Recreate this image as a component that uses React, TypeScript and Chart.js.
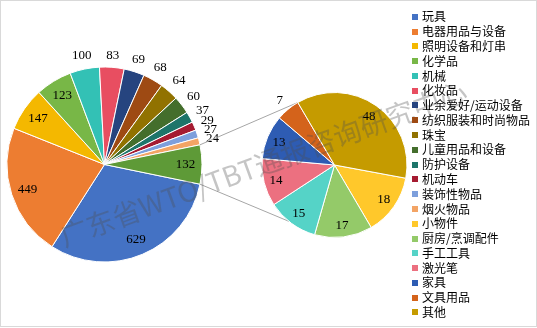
import React, { useEffect, useRef } from "react";
import { Chart, registerables } from "chart.js";

Chart.register(...registerables);

// ---- data ----
const mainLabels = [
  "玩具", "电器用品与设备", "照明设备和灯串", "化学品", "机械", "化妆品",
  "业余爱好/运动设备", "纺织服装和时尚物品", "珠宝", "儿童用品和设备",
  "防护设备", "机动车", "装饰性物品", "烟火物品",
];
const mainValues = [629, 449, 147, 123, 100, 83, 69, 68, 64, 60, 37, 29, 27, 24];

const secondLabels = ["小物件", "厨房/烹调配件", "手工工具", "激光笔", "家具", "文具用品", "其他"];
const secondValues = [18, 17, 15, 14, 13, 7, 48];

const otherLabel = "其他";

// ---- styles ----
const mainColors = [
  "#4472C4", "#ED7D31", "#F4B800", "#78B747", "#33C1B5", "#E84E61",
  "#26447F", "#9E4A13", "#917200", "#446E2C", "#1D756A", "#A51B31",
  "#7D9FDC", "#F3A465",
];
const secondColors = ["#FFC82B", "#94CA69", "#55D3C7", "#EC7080", "#2E5CB3", "#D4631B", "#C59B00"];
const otherSliceColor = "#5E9A37";
const watermarkText = "广东省WTO/TBT通报咨询研究中心";

const W = 537;
const H = 328;
const DEG = Math.PI / 180;

const valueLabelPlugin = {
  id: "valueLabels",
  afterDatasetsDraw(chart: any) {
    const ctx = chart.ctx;
    const meta = chart.getDatasetMeta(0);
    const data = chart.data.datasets[0].data;
    ctx.save();
    ctx.font = "13px 'Liberation Serif', 'Times New Roman', serif";
    ctx.fillStyle = "#000";
    ctx.textAlign = "center";
    ctx.textBaseline = "middle";
    meta.data.forEach((arc: any, i: number) => {
      const p = arc.getProps(["x", "y", "startAngle", "endAngle", "outerRadius"], true);
      const mid = (p.startAngle + p.endAngle) / 2;
      const span = p.endAngle - p.startAngle;
      const text = String(data[i]);
      const c = Math.cos(mid);
      const s = Math.sin(mid);
      let d: number;
      if (span >= 20 * DEG) {
        d = p.outerRadius * 0.83;
      } else {
        const w = ctx.measureText(text).width;
        const h = 12;
        d = p.outerRadius + 6 + Math.abs(c) * w / 2 + Math.abs(s) * h / 2;
      }
      ctx.fillText(text, p.x + c * d, p.y + s * d + 0.5);
    });
    ctx.restore();
  },
};

export default function App() {
  const mainRef = useRef<HTMLCanvasElement | null>(null);
  const secRef = useRef<HTMLCanvasElement | null>(null);

  useEffect(() => {
    if (!mainRef.current || !secRef.current) return;
    const otherSum = secondValues.reduce((a, b) => a + b, 0);
    const total = mainValues.reduce((a, b) => a + b, 0) + otherSum;
    const mainRotation = 90 + (180 * otherSum) / total;

    const mainChart = new Chart(mainRef.current, {
      type: "pie",
      data: {
        labels: [...mainLabels, otherLabel],
        datasets: [
          {
            data: [...mainValues, otherSum],
            backgroundColor: [...mainColors, otherSliceColor],
            borderColor: "#ffffff",
            borderWidth: 1,
            radius: 97.5,
          } as any,
        ],
      },
      options: {
        responsive: false,
        animation: false,
        events: [],
        rotation: mainRotation,
        layout: { padding: { left: 0, right: W - 209, top: 1, bottom: 0 } },
        plugins: { legend: { display: false }, tooltip: { enabled: false } },
      } as any,
      plugins: [valueLabelPlugin],
    });

    const connectorPlugin = {
      id: "connectors",
      beforeDatasetsDraw(chart: any) {
        const mArc = mainChart.getDatasetMeta(0).data[mainValues.length] as any;
        const sArc = chart.getDatasetMeta(0).data[secondValues.length - 1];
        if (!mArc || !sArc) return;
        const m = mArc.getProps(["x", "y", "startAngle", "endAngle", "outerRadius"], true);
        const s = sArc.getProps(["x", "y", "startAngle", "endAngle", "outerRadius"], true);
        const ctx = chart.ctx;
        const botAngle = (219 - 90) * DEG;
        ctx.save();
        ctx.strokeStyle = "#A6A6A6";
        ctx.lineWidth = 1;
        ctx.beginPath();
        ctx.moveTo(m.x + m.outerRadius * Math.cos(m.startAngle), m.y + m.outerRadius * Math.sin(m.startAngle));
        ctx.lineTo(s.x + s.outerRadius * Math.cos(s.startAngle), s.y + s.outerRadius * Math.sin(s.startAngle));
        ctx.moveTo(m.x + m.outerRadius * Math.cos(m.endAngle), m.y + m.outerRadius * Math.sin(m.endAngle));
        ctx.lineTo(s.x + s.outerRadius * Math.cos(botAngle), s.y + s.outerRadius * Math.sin(botAngle));
        ctx.stroke();
        ctx.restore();
      },
      afterDraw(chart: any) {
        const ctx = chart.ctx;
        ctx.save();
        ctx.translate(60.8, 237.3);
        ctx.rotate(-20 * DEG);
        ctx.font = "28px 'Noto Sans CJK SC', sans-serif";
        ctx.fillStyle = "rgba(80,80,80,0.33)";
        ctx.textAlign = "left";
        ctx.textBaseline = "middle";
        ctx.fillText(watermarkText, 0, 0);
        ctx.restore();
      },
    };

    const secChart = new Chart(secRef.current, {
      type: "pie",
      data: {
        labels: secondLabels,
        datasets: [
          {
            data: secondValues,
            backgroundColor: secondColors,
            borderColor: "#ffffff",
            borderWidth: 1,
            radius: 72.5,
          } as any,
        ],
      },
      options: {
        responsive: false,
        animation: false,
        events: [],
        rotation: 100.5,
        layout: { padding: { left: 262, right: W - 407, top: 2, bottom: 0 } },
        plugins: { legend: { display: false }, tooltip: { enabled: false } },
      } as any,
      plugins: [valueLabelPlugin, connectorPlugin],
    });

    return () => {
      secChart.destroy();
      mainChart.destroy();
    };
  }, []);

  const legendItems = [
    ...mainLabels.map((l, i) => ({ label: l, color: mainColors[i] })),
    ...secondLabels.map((l, i) => ({ label: l, color: secondColors[i] })),
  ];

  return (
    <div style={{ position: "fixed", left: 0, top: 0, width: W, height: H, background: "#fff" }}>
      <div
        style={{
          position: "absolute", left: 0, top: 0, width: W, height: 327,
          border: "1px solid #D9D9D9", boxSizing: "border-box", background: "#fff",
        }}
      />
      <canvas ref={mainRef} width={W} height={H} style={{ position: "absolute", left: 0, top: 0 }} />
      <canvas ref={secRef} width={W} height={H} style={{ position: "absolute", left: 0, top: 0 }} />
      <div style={{ position: "absolute", left: 412, top: 9.4 }}>
        {legendItems.map((it) => (
          <div
            key={it.label}
            style={{
              display: "flex", alignItems: "center", height: 14.79,
              font: "12px 'Noto Sans CJK SC', sans-serif", color: "#000", whiteSpace: "nowrap",
            }}
          >
            <span style={{ display: "inline-block", width: 6, height: 6, background: it.color, marginRight: 4 }} />
            <span style={{ lineHeight: "14.79px" }}>{it.label}</span>
          </div>
        ))}
      </div>
    </div>
  );
}
